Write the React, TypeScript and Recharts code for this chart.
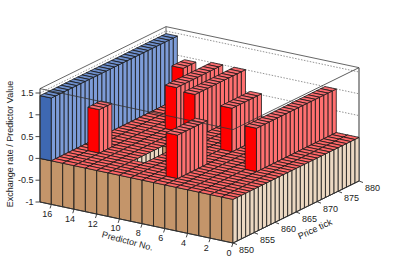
import { Scatter, ScatterChart, XAxis, YAxis } from "recharts";

const predictorTicks = [16, 14, 12, 10, 8, 6, 4, 2, 0];
const priceTicks = [850, 855, 860, 865, 870, 875, 880];
const valueTicks = [-1, -0.5, 0, 0.5, 1, 1.5];

const predictorCount = 17;
const priceCount = 30;
const firstPrice = 850;
const valueMin = -1;
const valueTop = 1.6;

// bins with no bar at all, the gap in the floor
const emptyPredictor = 10;
const emptyPrices = [856, 857, 858, 859, 860, 861, 862];

// predictor 17 wall, one value per price tick
const wallValues = [
  1.44, 1.44, 1.44, 1.44, 1.44, 1.44, 1.44, 1.44, 1.44, 1.44, 1.44, 1.44, 1.44, 1.44, 1.44,
  1.44, 1.44, 1.44, 1.44, 1.44, 1.44, 1.44, 1.44, 1.44, 1.44, 1.44, 1.44, 1.44, 1.44, 1.44,
];
const rowP2 = [1, 1, 1, 1, 1, 1, 1, 1, 1, 1, 1, 1, 1, 1, 1, 1, 1, 1, 1];
const rowP6Near = [1, 1, 1, 1, 1, 1, 1];
const rowP6Far = [1, 1, 1, 1, 1, 1, 1];
const rowP10 = [1, 1, 1, 1, 1, 1, 1, 1, 1, 1, 1, 1];
const rowP12 = [1, 1, 1, 1, 1, 1, 1, 1, 1, 1, 1];
const rowP14Near = [1, 1, 1];
const rowP14Far = [1, 1, 1];

const redRows = [
  { bin: 2, start: 861, values: rowP2 },
  { bin: 6, start: 853, values: rowP6Near },
  { bin: 6, start: 866, values: rowP6Far },
  { bin: 10, start: 868, values: rowP10 },
  { bin: 12, start: 869, values: rowP12 },
  { bin: 14, start: 856, values: rowP14Near },
  { bin: 14, start: 876, values: rowP14Far },
];

const W = 399;
const H = 270;

// oblique projection, pixels per data unit
const FRONT = { x: 233, y: 243 };
const P_STEP = { x: -193 / predictorCount, y: -41 / predictorCount };
const T_STEP = { x: 126 / priceCount, y: -62 / priceCount };
const Z_STEP = 43.6;

const project = (p: number, t: number, z: number) => ({
  sx: FRONT.x + p * P_STEP.x + t * T_STEP.x,
  sy: FRONT.y + p * P_STEP.y + t * T_STEP.y - (z - valueMin) * Z_STEP,
});

const TAN = { left: "#c4956a", right: "#ecd8c2", top: "#ff6666" };
const RED = { left: "#ff0000", right: "#ff7070", top: "#fb6a6e" };
const BLUE = { left: "#3e68b2", right: "#7d9cd8", top: "#6d8ecb" };

type Box = { sx: number; sy: number; height: number; colors: typeof TAN };

function buildBoxes() {
  const boxes: Box[] = [];
  for (let p = predictorCount - 1; p >= 0; p--) {
    for (let t = priceCount - 1; t >= 0; t--) {
      if (p === emptyPredictor && emptyPrices.includes(firstPrice + t)) continue;
      boxes.push({ ...project(p, t, valueMin), height: 0 - valueMin, colors: TAN });
      let value = 0;
      let colors = RED;
      if (p === predictorCount - 1) {
        value = wallValues[t];
        colors = BLUE;
      }
      for (const row of redRows) {
        const i = firstPrice + t - row.start;
        if (row.bin === p && i >= 0 && i < row.values.length) value = row.values[i];
      }
      if (value > 0) boxes.push({ ...project(p, t, 0), height: value, colors });
    }
  }
  return boxes;
}

function BoxShape(props: any) {
  const { cx, cy, payload } = props;
  const { height, colors } = payload as Box;
  const h = height * Z_STEP;
  const pt = (a: number, b: number, up: number) =>
    `${cx + a * P_STEP.x + b * T_STEP.x},${cy + a * P_STEP.y + b * T_STEP.y - up}`;
  const line = { stroke: "#1a1a1a", strokeWidth: 0.8, strokeLinejoin: "round" as const };
  return (
    <g>
      <polygon points={[pt(0, 0, 0), pt(1, 0, 0), pt(1, 0, h), pt(0, 0, h)].join(" ")} fill={colors.left} {...line} />
      <polygon points={[pt(0, 0, 0), pt(0, 1, 0), pt(0, 1, h), pt(0, 0, h)].join(" ")} fill={colors.right} {...line} />
      <polygon points={[pt(0, 0, h), pt(1, 0, h), pt(1, 1, h), pt(0, 1, h)].join(" ")} fill={colors.top} {...line} />
    </g>
  );
}

const segment = (a: { sx: number; sy: number }, b: { sx: number; sy: number }) => ({
  sx: a.sx,
  sy: a.sy,
  dx: b.sx - a.sx,
  dy: b.sy - a.sy,
});

const SegmentShape = (style: object) => (props: any) => (
  <line x1={props.cx} y1={props.cy} x2={props.cx + props.payload.dx} y2={props.cy + props.payload.dy} {...style} />
);

const corner = {
  front: (z: number) => project(0, 0, z),
  left: (z: number) => project(predictorCount, 0, z),
  back: (z: number) => project(predictorCount, priceCount, z),
  right: (z: number) => project(0, priceCount, z),
};

const gridSegments = valueTicks.flatMap((v) => [
  segment(corner.left(v), corner.back(v)),
  segment(corner.back(v), corner.right(v)),
]);
const backSegments = [
  segment(corner.left(valueTop), corner.back(valueTop)),
  segment(corner.back(valueTop), corner.right(valueTop)),
  segment(corner.back(valueMin), corner.back(valueTop)),
];
const topFrontSegments = [
  segment(corner.left(valueTop), corner.front(valueTop)),
  segment(corner.front(valueTop), corner.right(valueTop)),
];
const axisSegments = [
  segment(corner.left(valueMin), corner.front(valueMin)),
  segment(corner.front(valueMin), corner.right(valueMin)),
  segment(corner.left(valueMin), corner.left(valueTop)),
];
const rightEdge = [segment(corner.right(valueMin), corner.right(valueTop))];

const predictorTickMarks = predictorTicks.map((v) => {
  const a = project(v, 0, valueMin);
  return { ...segment(a, { sx: a.sx - 1.3, sy: a.sy + 4 }), label: String(v) };
});
const priceTickMarks = priceTicks.map((v) => {
  const a = project(0, v - firstPrice, valueMin);
  return { ...segment(a, { sx: a.sx + 4, sy: a.sy + 1.5 }), label: String(v) };
});
const valueTickMarks = valueTicks.map((v) => {
  const a = corner.left(v);
  return { ...segment(a, { sx: a.sx - 4.5, sy: a.sy }), label: String(v) };
});

function TickText(dx: number, dy: number, anchor: "middle" | "end" = "middle") {
  return (props: any) => (
    <text x={props.cx + dx} y={props.cy + dy} textAnchor={anchor} dominantBaseline="central" fontSize={9} fill="#222">
      {props.payload.label}
    </text>
  );
}

const AxisTitle = (angle: number) => (props: any) => (
  <text
    x={props.cx}
    y={props.cy}
    textAnchor="middle"
    dominantBaseline="central"
    fontSize={9}
    fill="#222"
    transform={`rotate(${angle} ${props.cx} ${props.cy})`}
  >
    {props.payload.label}
  </text>
);

export default function App() {
  const common = { xAxisId: "screen", yAxisId: "screen", isAnimationActive: false };
  return (
    <div style={{ position: "absolute", left: 0, top: 0, fontFamily: "'Liberation Sans', Arial, sans-serif" }}>
      <ScatterChart width={W} height={H} margin={{ top: 0, right: 0, bottom: 0, left: 0 }}>
        <XAxis xAxisId="screen" type="number" dataKey="sx" domain={[0, W]} hide />
        <YAxis yAxisId="screen" type="number" dataKey="sy" domain={[0, H]} reversed hide width={0} />
        <Scatter {...common} data={gridSegments} shape={SegmentShape({ stroke: "#888", strokeWidth: 0.9, strokeDasharray: "1.5 1.5" })} />
        <Scatter {...common} data={backSegments} shape={SegmentShape({ stroke: "#555", strokeWidth: 0.9 })} />
        <Scatter {...common} data={rightEdge} shape={SegmentShape({ stroke: "#999", strokeWidth: 2 })} />
        <Scatter {...common} data={buildBoxes()} shape={BoxShape} />
        <Scatter {...common} data={topFrontSegments} shape={SegmentShape({ stroke: "#333", strokeWidth: 0.8 })} />
        <Scatter {...common} data={axisSegments} shape={SegmentShape({ stroke: "#333", strokeWidth: 1 })} />
        <Scatter {...common} data={predictorTickMarks} shape={SegmentShape({ stroke: "#333", strokeWidth: 0.9 })} />
        <Scatter {...common} data={priceTickMarks} shape={SegmentShape({ stroke: "#333", strokeWidth: 0.9 })} />
        <Scatter {...common} data={valueTickMarks} shape={SegmentShape({ stroke: "#333", strokeWidth: 0.9 })} />
        <Scatter {...common} data={predictorTickMarks} shape={TickText(-4, 9.5)} />
        <Scatter {...common} data={priceTickMarks} shape={TickText(13.5, 7)} />
        <Scatter {...common} data={valueTickMarks} shape={TickText(-6.5, 0, "end")} />
        <Scatter {...common} data={[{ sx: 10, sy: 144, label: "Exchange rate / Predictor Value" }]} shape={AxisTitle(-90)} />
        <Scatter {...common} data={[{ sx: 127.5, sy: 241, label: "Predictor No." }]} shape={AxisTitle(15)} />
        <Scatter {...common} data={[{ sx: 315, sy: 229, label: "Price tick" }]} shape={AxisTitle(-25)} />
      </ScatterChart>
    </div>
  );
}
